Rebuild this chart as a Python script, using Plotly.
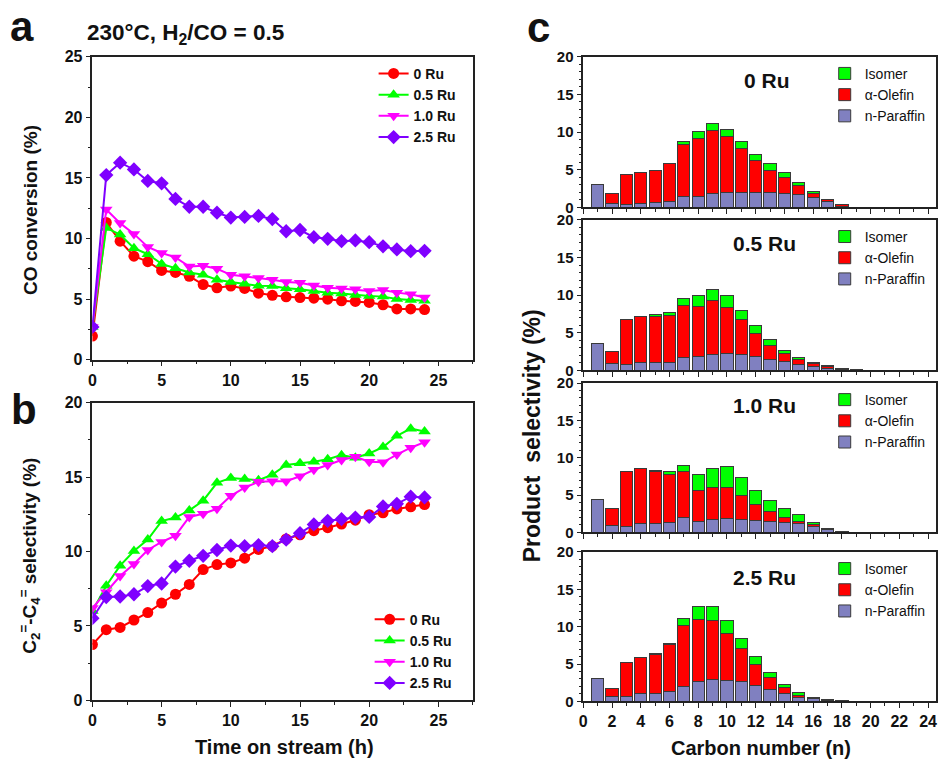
import plotly.graph_objects as go

W, H = 938, 769
FONT = "Liberation Sans, Arial, sans-serif"

# ---------------- data ----------------
time_h = list(range(25))
series_names = ["0 Ru", "0.5 Ru", "1.0 Ru", "2.5 Ru"]

co_conv_0 = [1.94, 11.32, 9.78, 8.54, 8.09, 7.36, 7.2, 6.88, 6.2, 5.93, 6.07, 5.88, 5.48, 5.31, 5.18, 5.12, 5.07, 4.99, 4.85, 4.8, 4.72, 4.53, 4.18, 4.18, 4.13]
co_conv_05 = [2.7, 10.87, 10.33, 9.2, 8.7, 7.9, 7.55, 7.2, 7.0, 6.6, 6.4, 6.27, 6.1, 6.07, 5.9, 5.8, 5.66, 5.53, 5.45, 5.34, 5.26, 5.2, 5.0, 4.93, 4.85]
co_conv_10 = [2.7, 12.4, 11.27, 10.38, 9.3, 8.8, 8.44, 7.68, 7.74, 7.5, 7.0, 6.88, 6.74, 6.6, 6.4, 6.34, 6.12, 5.93, 5.88, 5.8, 5.66, 5.75, 5.53, 5.4, 5.12]
co_conv_25 = [2.7, 15.24, 16.26, 15.7, 14.75, 14.56, 13.27, 12.62, 12.62, 12.13, 11.73, 11.78, 11.86, 11.6, 10.6, 10.7, 10.11, 9.97, 9.78, 9.84, 9.7, 9.35, 9.1, 8.95, 8.98]

olef_sel_0 = [3.75, 4.75, 4.9, 5.4, 5.9, 6.54, 7.13, 7.79, 8.79, 9.12, 9.23, 9.55, 10.14, 10.36, 10.84, 11.12, 11.4, 11.6, 11.84, 12.1, 12.47, 12.6, 12.86, 13.0, 13.15]
olef_sel_05 = [6.0, 7.7, 9.05, 10.03, 10.8, 12.04, 12.28, 12.76, 13.41, 14.61, 14.94, 14.87, 14.79, 15.16, 15.81, 15.92, 16.03, 16.2, 16.47, 16.29, 16.58, 17.01, 17.77, 18.25, 18.06]
olef_sel_10 = [6.2, 7.26, 8.35, 9.16, 10.1, 10.64, 11.06, 12.32, 12.54, 12.87, 13.74, 14.29, 14.68, 14.72, 14.72, 15.05, 15.49, 15.81, 16.14, 16.36, 16.03, 15.99, 16.51, 16.97, 17.34]
olef_sel_25 = [5.52, 6.94, 6.98, 7.13, 7.68, 7.85, 8.99, 9.38, 9.71, 10.1, 10.4, 10.36, 10.43, 10.36, 10.8, 11.23, 11.82, 12.06, 12.17, 12.28, 12.32, 13.02, 13.2, 13.68, 13.63]

# Carbon-number distributions (component values, stacked: paraffin, olefin, isomer)
paraffin_0 = [3.0, 0.45, 0.35, 0.5, 0.65, 0.8, 1.4, 1.45, 1.8, 1.9, 2.0, 1.9, 1.9, 1.8, 1.65, 1.3, 0.8, 0.05]
olefin_0 = [0, 1.35, 3.95, 4.15, 4.25, 5.05, 7.0, 7.7, 8.45, 7.45, 5.85, 4.35, 3.05, 2.1, 1.25, 0.5, 0.2, 0.3]
isomer_0 = [0, 0, 0, 0, 0, 0, 0.35, 0.95, 0.95, 0.95, 0.9, 0.8, 0.9, 0.75, 0.45, 0.25, 0.05, 0]

paraffin_05 = [3.6, 0.85, 0.8, 1.0, 1.1, 1.1, 1.65, 1.8, 2.1, 2.25, 2.1, 1.85, 1.45, 1.15, 0.8, 0.5, 0.2, 0.05, 0.05]
olefin_05 = [0, 1.65, 5.9, 6.2, 6.1, 6.25, 7.0, 6.75, 7.2, 6.15, 4.6, 3.05, 1.85, 1.1, 0.65, 0.35, 0.3, 0.2, 0.05]
isomer_05 = [0, 0, 0, 0, 0.25, 0.35, 0.9, 1.4, 1.5, 1.5, 1.25, 1.0, 0.8, 0.45, 0.3, 0.25, 0.15, 0, 0]

paraffin_10 = [4.45, 0.95, 0.85, 1.2, 1.2, 1.35, 1.95, 1.5, 1.7, 1.85, 1.75, 1.65, 1.5, 1.35, 1.25, 0.85, 0.4, 0.1]
olefin_10 = [0, 2.2, 7.25, 7.3, 6.95, 6.4, 6.15, 4.15, 4.35, 4.2, 3.25, 2.05, 1.3, 0.65, 0.25, 0.2, 0.15, 0.05]
isomer_10 = [0, 0, 0, 0, 0.15, 0.35, 0.85, 2.15, 2.55, 2.8, 2.35, 1.85, 1.45, 1.15, 0.85, 0.25, 0, 0]

paraffin_25 = [3.1, 0.7, 0.65, 1.0, 1.0, 1.3, 2.0, 2.6, 2.95, 2.85, 2.6, 2.1, 1.6, 1.05, 0.55, 0.35, 0.15, 0.05]
olefin_25 = [0, 1.05, 4.5, 4.9, 5.25, 6.3, 8.1, 8.4, 7.9, 6.25, 4.45, 2.85, 1.55, 0.8, 0.25, 0.1, 0.05, 0.03]
isomer_25 = [0, 0, 0, 0, 0.15, 0.2, 1.05, 1.75, 1.8, 1.7, 1.4, 1.05, 0.75, 0.35, 0.35, 0.1, 0.05, 0]

component_names = ["n-Paraffin", "α-Olefin", "Isomer"]
c_x_ticks = list(range(0, 25, 2))

# ---------------- styles ----------------
line_colors = ["#FF0000", "#00FF00", "#FF00FF", "#7F00FF"]
symbols = ["circle", "triangle-up", "triangle-down", "diamond"]
bar_colors = ["#8080C0", "#FF0000", "#00FF00"]


def px_x(p):
    return p / W


def px_y(p):
    return 1 - p / H


fig = go.Figure()

co_sets = [co_conv_0, co_conv_05, co_conv_10, co_conv_25]
sel_sets = [olef_sel_0, olef_sel_05, olef_sel_10, olef_sel_25]
for i, name in enumerate(series_names):
    fig.add_trace(go.Scatter(
        x=time_h, y=co_sets[i], mode="lines+markers", name=name,
        line=dict(color=line_colors[i], width=2),
        marker=dict(symbol=symbols[i], size=11, color=line_colors[i]),
        xaxis="x", yaxis="y", legend="legend"))
for i, name in enumerate(series_names):
    fig.add_trace(go.Scatter(
        x=time_h, y=sel_sets[i], mode="lines+markers", name=name,
        line=dict(color=line_colors[i], width=2),
        marker=dict(symbol=symbols[i], size=11, color=line_colors[i]),
        xaxis="x2", yaxis="y2", legend="legend2"))

dist_sets = [
    (paraffin_0, olefin_0, isomer_0),
    (paraffin_05, olefin_05, isomer_05),
    (paraffin_10, olefin_10, isomer_10),
    (paraffin_25, olefin_25, isomer_25),
]
for k, comps in enumerate(dist_sets):
    ax = k + 3
    for j, vals in enumerate(comps):
        fig.add_trace(go.Bar(
            x=list(range(1, len(vals) + 1)), y=vals, name=component_names[j],
            marker=dict(color=bar_colors[j], line=dict(color="#3a3a3a", width=1)),
            xaxis=f"x{ax}", yaxis=f"y{ax}", legend=f"legend{ax}"))


def axis_common(size=16):
    return dict(showline=True, linecolor="#222", linewidth=1.5, mirror=True,
                ticks="outside", ticklen=5, tickwidth=1.3, tickcolor="#222",
                showgrid=False, zeroline=False,
                tickfont=dict(family=FONT, size=size, color="#111", weight="bold"))


minor_a = dict(dtick=2.5, ticks="outside", ticklen=3, tickcolor="#222")
ax_x_dom = [px_x(89), px_x(472)]
layout = dict(
    width=W, height=H, margin=dict(l=0, r=0, t=0, b=0),
    plot_bgcolor="white", paper_bgcolor="white",
    barmode="stack", bargap=0.15, showlegend=True,
    xaxis=dict(domain=ax_x_dom, anchor="y", range=[0, 27.5], tickvals=[0, 5, 10, 15, 20, 25],
               minor=minor_a, **axis_common()),
    yaxis=dict(domain=[px_y(359), px_y(49)], anchor="x", range=[0, 25], tickvals=[0, 5, 10, 15, 20, 25],
               minor=minor_a, **axis_common()),
    xaxis2=dict(domain=ax_x_dom, anchor="y2", range=[0, 27.5], tickvals=[0, 5, 10, 15, 20, 25],
                minor=minor_a, **axis_common()),
    yaxis2=dict(domain=[px_y(708), px_y(403)], anchor="x2", range=[0, 20], tickvals=[0, 5, 10, 15, 20],
                minor=minor_a, **axis_common()),
)

c_domains = [(49, 203), (216, 370), (383, 536), (556, 709)]
for k, (top, bot) in enumerate(c_domains):
    ax = k + 3
    layout[f"xaxis{ax}"] = dict(domain=[px_x(583), 1.0], anchor=f"y{ax}", range=[0, 24.55],
                                tickvals=c_x_ticks, showticklabels=(k == 3),
                                minor=dict(dtick=1, ticks="outside", ticklen=3, tickcolor="#222"),
                                **axis_common(16))
    layout[f"yaxis{ax}"] = dict(domain=[px_y(bot), px_y(top)], anchor=f"x{ax}", range=[0, 20],
                                tickvals=[0, 5, 10, 15, 20],
                                minor=dict(dtick=1, ticks="outside", ticklen=3, tickcolor="#222"),
                                **axis_common(15))

leg_line = dict(bgcolor="rgba(0,0,0,0)", borderwidth=0, traceorder="normal",
                font=dict(family=FONT, size=14, color="#111", weight="bold"),
                xanchor="left", yanchor="top", tracegroupgap=0, itemwidth=30)
layout["legend"] = dict(x=px_x(372), y=px_y(50), **leg_line)
layout["legend2"] = dict(x=px_x(368), y=px_y(609), **leg_line)
leg_bar = dict(bgcolor="rgba(0,0,0,0)", borderwidth=0, traceorder="reversed",
               font=dict(family=FONT, size=14, color="#111"),
               xanchor="left", yanchor="top", tracegroupgap=0, itemwidth=30)
for k, (top, bot) in enumerate(c_domains):
    layout[f"legend{k + 3}"] = dict(x=px_x(826), y=px_y(top + 1), **leg_bar)

fig.update_layout(**layout)

ann = []


def add_text(text, x, y, size, angle=0, xanchor="center", yanchor="middle"):
    ann.append(dict(text=text, x=px_x(x), y=px_y(y), xref="paper", yref="paper",
                    showarrow=False, textangle=angle, xanchor=xanchor, yanchor=yanchor,
                    font=dict(family=FONT, size=size, color="#111")))


add_text("<b>a</b>", 4, 18, 42, xanchor="left")
add_text("<b>b</b>", 5, 410, 42, xanchor="left")
add_text("<b>c</b>", 524, 19, 42, xanchor="left")
add_text("<b>230°C, H<sub>2</sub>/CO = 0.5</b>", 82, 26, 22.5, xanchor="left")
add_text("<b>CO conversion (%)</b>", 26, 206, 19, angle=-90)
add_text("<b>C<sub>2</sub><sup>=</sup>-C<sub>4</sub><sup>=</sup> selectivity (%)</b>", 26, 560, 19, angle=-90)
add_text("<b>Time on stream (h)</b>", 282, 756, 20)
add_text("<b>Product  selectivity (%)</b>", 531, 437, 23, angle=-90)
add_text("<b>Carbon number (n)</b>", 762, 757, 20)
label_pos = [(768, 73), (765, 240), (765, 406), (765, 582)]
for name, (lx, ly) in zip(series_names, label_pos):
    add_text(f"<b>{name}</b>", lx, ly, 21)

fig.update_layout(annotations=ann)
fig.write_html("out.html")
